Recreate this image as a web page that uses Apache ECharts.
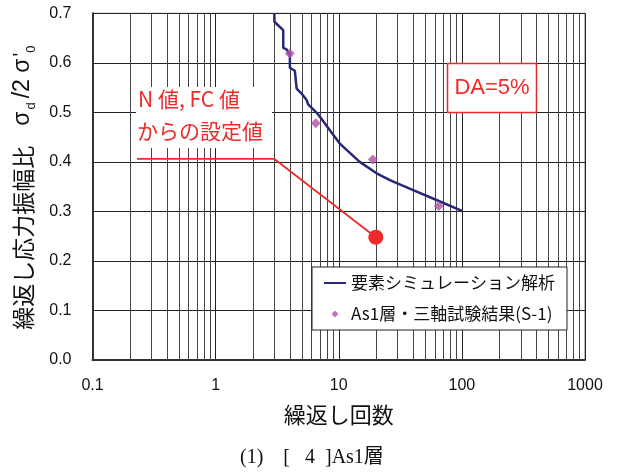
<!DOCTYPE html>
<html><head><meta charset="utf-8">
<script src="https://cdn.jsdelivr.net/npm/echarts@6/dist/echarts.min.js"></script>
<style>html,body{margin:0;padding:0;background:#fff}#c{width:618px;height:475px}</style>
</head><body><div id="c"></div>
<script>
// Blue simulation curve (要素シミュレーション解析)
var simX = [3.0, 3.0, 3.54, 3.54, 3.77, 4.01, 4.01, 4.40, 4.55, 4.99, 5.48, 5.64, 6.68, 7.03, 9.01, 10.2, 14.8, 20.3, 26.0, 40.2, 62.2, 100];
var simY = [0.700, 0.683, 0.666, 0.630, 0.627, 0.616, 0.590, 0.584, 0.548, 0.538, 0.525, 0.516, 0.498, 0.491, 0.455, 0.437, 0.400, 0.377, 0.363, 0.343, 0.323, 0.301];
// Triaxial test results (As1層・三軸試験結果(S-1))
var testX = [4.0, 6.5, 18.9, 64.9];
var testY = [0.619, 0.478, 0.405, 0.311];
// Set value from N値, FC値 (leader line + point)
var setX = [0.23, 3.0, 20];
var setY = [0.406, 0.406, 0.248];
// Axis ticks
var xTicks = [0.1, 1, 10, 100, 1000];
var yTicks = [0.0, 0.1, 0.2, 0.3, 0.4, 0.5, 0.6, 0.7];
var minorMult = [2, 3, 4, 5, 6, 7, 8, 9];
var decades = [0.1, 1, 10, 100];

var minorLines = [];
decades.forEach(function (d) { minorMult.forEach(function (m) { minorLines.push([+(d * m).toPrecision(3)]); }); });

function pairs(xs, ys) { return xs.map(function (x, i) { return [x, ys[i]]; }); }

var chart = echarts.init(document.getElementById('c'));
var L = 92.5, R = 585, T = 13.3, B = 360;
chart.setOption({
  animation: false,
  textStyle: { fontFamily: 'Liberation Sans, Arial, sans-serif' },
  grid: { left: L, right: 618 - R, top: T, bottom: 475 - B, show: true, borderColor: '#777', borderWidth: 1 },
  xAxis: {
    type: 'log', logBase: 10, min: 0.1, max: 1000,
    axisLine: { show: true, onZero: false, lineStyle: { color: '#333', width: 2 } },
    axisTick: { show: false },
    splitLine: { show: true, lineStyle: { color: '#222', width: 1 } },
    axisLabel: { margin: 18, fontSize: 16, color: '#111', fontFamily: 'Liberation Sans',
      formatter: function (v) { var t = xTicks.find(function (k) { return Math.abs(Math.log10(k) - Math.log10(v)) < 1e-6; }); return t === undefined ? '' : String(t); } },
    name: '繰返し回数', nameLocation: 'middle', nameGap: 44,
    nameTextStyle: { fontSize: 22, color: '#111', fontFamily: 'Noto Sans CJK JP' }
  },
  yAxis: {
    type: 'value', min: 0, max: 0.7, interval: 0.1,
    axisLine: { show: true, lineStyle: { color: '#333', width: 2 } },
    axisTick: { show: false },
    splitLine: { show: true, lineStyle: { color: '#222', width: 1 } },
    axisLabel: { margin: 21, fontSize: 16, color: '#111', fontFamily: 'Liberation Sans',
      formatter: function (v) { return v.toFixed(1); } },
    name: '{jp|繰返し応力振幅比}{sp| }{s|σ}{sub|d}{s|/2 σ}{sup|\'}{sub|0}',
    nameLocation: 'middle', nameGap: 58, nameRotate: 90,
    nameTextStyle: {
      color: '#111',
      rich: {
        jp: { fontSize: 23, fontFamily: 'Noto Sans CJK JP', color: '#111', verticalAlign: 'bottom' },
        sp: { fontSize: 23, width: 18, verticalAlign: 'bottom' },
        s: { fontSize: 23, fontFamily: 'Liberation Sans', color: '#111', verticalAlign: 'bottom', padding: [0, 2, 0, 2] },
        sub: { fontSize: 13, fontFamily: 'Liberation Sans', color: '#111', verticalAlign: 'bottom', padding: [0, 2, -3, 0] },
        sup: { fontSize: 20, fontFamily: 'Liberation Sans', color: '#111', verticalAlign: 'top', padding: [0, 0, 0, 0] }
      }
    }
  },
  legend: {
    orient: 'vertical', left: 312, top: 267,
    backgroundColor: '#fff', borderColor: '#222', borderWidth: 1,
    padding: [6, 12, 6, 12], itemGap: 11, itemWidth: 22, itemHeight: 8,
    textStyle: { fontSize: 17, lineHeight: 20, color: '#111', fontFamily: 'Noto Sans CJK JP' },
    data: [
      { name: '要素シミュレーション解析', icon: 'path://M0,3L22,3L22,5L0,5Z', itemStyle: { color: '#282878', borderWidth: 0 } },
      { name: 'As1層・三軸試験結果(S-1)', icon: 'path://M0,4L0.01,4L0,4Z M22,4L21.99,4L22,4Z M11,0.5L14.5,4L11,7.5L7.5,4Z', itemStyle: { color: '#b252a8', borderWidth: 0 } }
    ]
  },
  series: [
    {
      name: 'grid-minor', type: 'custom', data: minorLines, z: 1, silent: true,
      encode: { x: 0 },
      renderItem: function (params, api) {
        var x = api.value(0);
        var p0 = api.coord([x, 0]);
        var p1 = api.coord([x, 0.7]);
        var px = Math.round(p0[0]) + 0.5;
        return { type: 'line', shape: { x1: px, y1: p0[1], x2: px, y2: p1[1] }, style: { stroke: '#444', lineWidth: 1 } };
      }
    },
    {
      name: '要素シミュレーション解析', type: 'line', data: pairs(simX, simY), z: 10,
      symbol: 'none', smooth: false,
      lineStyle: { color: '#282878', width: 2.5 }, itemStyle: { color: '#282878' }
    },
    {
      name: 'As1層・三軸試験結果(S-1)', type: 'scatter', data: pairs(testX, testY), z: 11,
      symbol: 'diamond', symbolSize: 10, itemStyle: { color: '#b050a8' }
    },
    {
      name: 'set', type: 'line', data: pairs(setX, setY), z: 10,
      symbol: 'circle', symbolSize: function (v, p) { return p.dataIndex === setX.length - 1 ? 15 : 0; },
      showSymbol: true, lineStyle: { color: '#ee2a2a', width: 1.8 }, itemStyle: { color: '#ee2a2a' }
    }
  ],
  graphic: [
    { type: 'rect', z: 20, shape: { x: 136, y: 87, width: 136, height: 61 }, style: { fill: '#fff' } },
    { type: 'text', z: 21, left: 138, top: 89, style: { text: 'N 値, FC 値', fill: '#ee2a2a', fontSize: 21, fontFamily: 'Noto Sans CJK JP' } },
    { type: 'text', z: 21, left: 137, top: 121, style: { text: 'からの設定値', fill: '#ee2a2a', fontSize: 21, fontFamily: 'Noto Sans CJK JP' } },
    { type: 'rect', z: 20, shape: { x: 447.5, y: 63.5, width: 89, height: 49 }, style: { fill: '#fff', stroke: '#ee2a2a', lineWidth: 1.5 } },
    { type: 'text', z: 21, x: 492, y: 88, style: { text: 'DA=5%', fill: '#ee2a2a', fontSize: 22, fontFamily: 'Liberation Sans', align: 'center', verticalAlign: 'middle' } },
    { type: 'text', z: 21, left: 240, top: 448, style: { text: '(1)    [   4  ]As1層', fill: '#111', fontSize: 20, fontFamily: 'Liberation Serif, Noto Sans CJK JP' } }
  ]
});
</script></body></html>
